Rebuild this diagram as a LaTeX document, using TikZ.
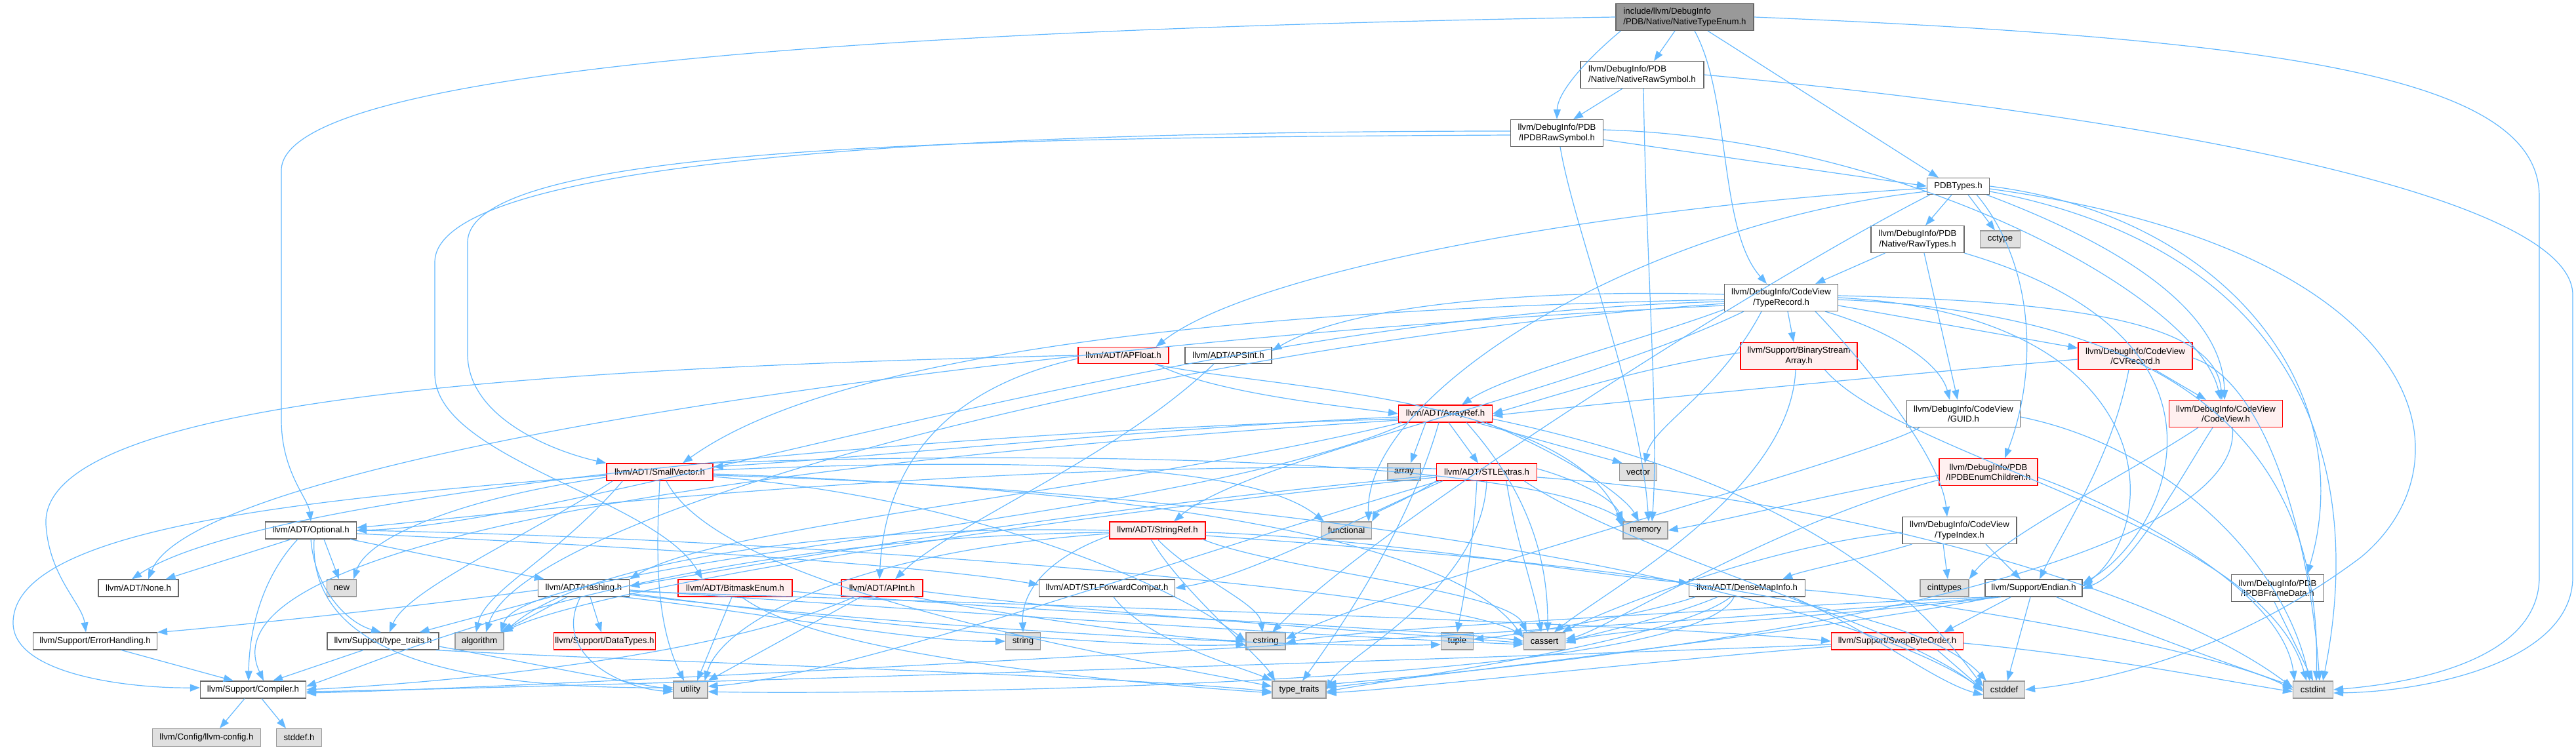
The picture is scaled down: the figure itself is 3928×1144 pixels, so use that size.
\documentclass[tikz,border=0pt]{standalone}
\usepackage{fontspec}
\setmainfont{Liberation Sans}
\usetikzlibrary{arrows.meta,calc}
\definecolor{edgec}{HTML}{63B8FF}
\definecolor{bordg}{HTML}{666666}
\definecolor{sysb}{HTML}{999999}
\definecolor{sysf}{HTML}{E0E0E0}
\definecolor{redf}{HTML}{FFF0F0}
\definecolor{rootf}{HTML}{999999}
\tikzset{
  base/.style={draw, rectangle, inner sep=1pt, font=\fontsize{6.6pt}{7.6pt}\selectfont, align=center, line width=0.6pt},
  plainbox/.style={base, draw=bordg, fill=white},
  redbox/.style={base, draw=red, fill=redf},
  sysbox/.style={base, draw=sysb, fill=sysf},
  rootbox/.style={base, draw=bordg, fill=rootf, align=left},
  e/.style={draw=edgec, line width=0.6pt, -{Triangle[length=7.5pt,width=5.5pt]}},
}
\newcommand{\nd}[7]{\node[#2, minimum width=#5pt, minimum height=#6pt] (#1) at (#3,#4) {#7};}
\begin{document}
\begin{tikzpicture}[x=0.5pt,y=-0.5pt]
\useasboundingbox (0,0) rectangle (3928,1144);
% nodes
\nd{root}{rootbox}{2569}{26}{105}{20.5}{include/llvm/DebugInfo\\/PDB/Native/NativeTypeEnum.h}
\nd{nrs}{plainbox,align=left}{2504}{114}{94}{20.5}{llvm/DebugInfo/PDB\\/Native/NativeRawSymbol.h}
\nd{irs}{plainbox}{2374}{203}{70.5}{20.5}{llvm/DebugInfo/PDB\\/IPDBRawSymbol.h}
\nd{pdbt}{plainbox}{2986}{284}{47.5}{12.5}{PDBTypes.h}
\nd{rawt}{plainbox}{2924}{365}{71}{20.5}{llvm/DebugInfo/PDB\\/Native/RawTypes.h}
\nd{cctype}{sysbox}{3050}{365}{30.5}{13}{cctype}
\nd{tr}{plainbox}{2716}{454}{86.5}{20.5}{llvm/DebugInfo/CodeView\\/TypeRecord.h}
\nd{bsa}{redbox}{2743}{543}{89}{20.5}{llvm/Support/BinaryStream\\Array.h}
\nd{cvr}{redbox}{3256}{543}{87}{20.5}{llvm/DebugInfo/CodeView\\/CVRecord.h}
\nd{guid}{plainbox}{2994}{631}{86.5}{20.5}{llvm/DebugInfo/CodeView\\/GUID.h}
\nd{cv}{redbox}{3394}{631}{86.5}{20.5}{llvm/DebugInfo/CodeView\\/CodeView.h}
\nd{iec}{redbox}{3032}{720}{75}{20.5}{llvm/DebugInfo/PDB\\/IPDBEnumChildren.h}
\nd{apfloat}{redbox}{1713}{542}{69}{12.5}{llvm/ADT/APFloat.h}
\nd{apsint}{plainbox}{1873}{542}{66}{12.5}{llvm/ADT/APSInt.h}
\nd{arrayref}{redbox}{2204}{631}{71.5}{13}{llvm/ADT/ArrayRef.h}
\nd{smallvec}{redbox}{1006}{720}{81}{13}{llvm/ADT/SmallVector.h}
\nd{array}{sysbox}{2141}{720}{25}{13}{array}
\nd{stlextras}{redbox}{2267}{720}{76.5}{13}{llvm/ADT/STLExtras.h}
\nd{vector}{sysbox}{2498}{720}{28.5}{13}{vector}
\nd{optional}{plainbox}{474}{809}{69.5}{13}{llvm/ADT/Optional.h}
\nd{stringref}{redbox}{1765}{809}{73}{13}{llvm/ADT/StringRef.h}
\nd{functional}{sysbox}{2053}{809}{38.5}{13}{functional}
\nd{memory}{sysbox}{2509}{809}{34}{13}{memory}
\nd{typeindex}{plainbox}{2988}{809}{87}{20.5}{llvm/DebugInfo/CodeView\\/TypeIndex.h}
\nd{none}{plainbox}{211}{897}{61}{13}{llvm/ADT/None.h}
\nd{new}{sysbox}{521}{897}{22.5}{13}{new}
\nd{hashing}{plainbox}{890}{897}{69.5}{13}{llvm/ADT/Hashing.h}
\nd{bitmask}{redbox}{1121}{897}{87}{13}{llvm/ADT/BitmaskEnum.h}
\nd{apint}{redbox}{1345}{897}{62}{13}{llvm/ADT/APInt.h}
\nd{stlfwd}{plainbox}{1688}{897}{103.5}{13}{llvm/ADT/STLForwardCompat.h}
\nd{densemap}{plainbox}{2664}{897}{88.5}{13}{llvm/ADT/DenseMapInfo.h}
\nd{cinttypes}{sysbox}{2965}{897}{37}{13}{cinttypes}
\nd{endian}{plainbox}{3101}{897}{74}{13}{llvm/Support/Endian.h}
\nd{frame}{plainbox}{3473}{897}{70.5}{20.5}{llvm/DebugInfo/PDB\\/IPDBFrameData.h}
\nd{errh}{plainbox}{145}{978}{94.5}{13}{llvm/Support/ErrorHandling.h}
\nd{tth}{plainbox}{584}{978}{85}{13}{llvm/Support/type\_traits.h}
\nd{algorithm}{sysbox}{731}{978}{37}{13}{algorithm}
\nd{datatypes}{redbox}{922}{978}{76}{13}{llvm/Support/DataTypes.h}
\nd{string}{sysbox}{1560}{978}{26.5}{13}{string}
\nd{cstring}{sysbox}{1930}{978}{30}{13}{cstring}
\nd{tuple}{sysbox}{2222}{978}{24.5}{13}{tuple}
\nd{cassert}{sysbox}{2355}{978}{31.5}{13}{cassert}
\nd{swap}{redbox}{2893}{978}{100.5}{13}{llvm/Support/SwapByteOrder.h}
\nd{compiler}{plainbox}{386}{1052}{80.5}{13}{llvm/Support/Compiler.h}
\nd{utility}{sysbox}{1053}{1052}{26}{13}{utility}
\nd{typetraits}{sysbox}{1981}{1052}{41}{13}{type\_traits}
\nd{cstddef}{sysbox}{3056}{1052}{31.5}{13}{cstddef}
\nd{cstdint}{sysbox}{3527}{1052}{30.5}{13}{cstdint}
\nd{llvmconfig}{sysbox}{315}{1125}{82.5}{13.5}{llvm/Config/llvm-config.h}
\nd{stddef}{sysbox}{456}{1125}{34.5}{13.5}{stddef.h}
% ---------------- edges
% root
\draw[e] (root.west) .. controls (1300,45) and (429,110) .. (429,260) -- (429,640) .. controls (429,720) and (470,760) .. (optional.north);
\draw[e] ($(root.south west)+(8,0)$) .. controls (2420,90) and (2375,140) .. (irs.north);
\draw[e] ($(root.south)+(-15,0)$) -- ($(nrs.north)+(18,0)$);
\draw[e] ($(root.south)+(15,0)$) .. controls (2640,150) and (2620,350) .. ($(tr.north)+(-22,0)$);
\draw[e] ($(root.south)+(35,0)$) -- ($(pdbt.north west)+(18,0)$);
\draw[e] (root.east) .. controls (3500,60) and (3872,120) .. (3872,300) -- (3872,880) .. controls (3872,1000) and (3700,1040) .. (cstdint.east);
% nrs
\draw[e] ($(nrs.south)+(-30,0)$) -- ($(irs.north)+(25,0)$);
\draw[e] ($(nrs.south)+(2,0)$) .. controls (2510,400) and (2530,650) .. ($(memory.north)+(10,0)$);
\draw[e] (nrs.east) .. controls (3300,180) and (3923,300) .. (3923,450) -- (3923,880) .. controls (3923,1010) and (3700,1055) .. ($(cstdint.east)+(0,5)$);
% irs
\draw[e] ($(irs.east)+(0,10)$) -- (pdbt.west);
\draw[e] ($(irs.east)+(0,-5)$) .. controls (2900,210) and (3350,450) .. ($(cv.north)+(-8,0)$);
\draw[e] ($(irs.west)+(0,3)$) .. controls (1500,210) and (713,220) .. (713,370) -- (713,540) .. controls (713,640) and (850,690) .. (smallvec.north west);
\draw[e] ($(irs.west)+(0,-3)$) .. controls (1400,200) and (663,250) .. (663,400) -- (663,570) .. controls (663,700) and (1000,760) .. ($(bitmask.north)+(-50,0)$);
\draw[e] ($(irs.south)+(5,0)$) .. controls (2400,350) and (2500,600) .. ($(memory.north)+(5,0)$);
% pdbt
\draw[e] ($(pdbt.west)+(0,3)$) .. controls (2400,320) and (1900,420) .. ($(apfloat.north east)+(-20,0)$);
\draw[e] ($(pdbt.south)+(-10,0)$) -- ($(rawt.north)+(12,0)$);
\draw[e] ($(pdbt.south)+(15,0)$) -- ($(cctype.north)+(-8,0)$);
\draw[e] ($(pdbt.south east)+(-5,0)$) .. controls (3250,380) and (3390,480) .. ($(cv.north)+(-2,0)$);
\draw[e] ($(pdbt.south east)+(-20,0)$) .. controls (3100,400) and (3110,560) .. ($(iec.north)+(25,0)$);
\draw[e] (pdbt.east) .. controls (3400,330) and (3600,600) .. ($(frame.north)+(45,0)$);
\draw[e] ($(pdbt.east)+(0,8)$) .. controls (3500,380) and (3610,700) .. ($(cstdint.north)+(15,0)$);
\draw[e] ($(pdbt.east)+(0,4)$) .. controls (3700,380) and (3780,700) .. (3600,850) .. controls (3400,1000) and (3200,1040) .. (cstddef.east);
\draw[e] ($(pdbt.south west)+(5,0)$) .. controls (2700,420) and (2100,800) .. ($(cstring.north)+(10,0)$);
\draw[e] ($(pdbt.west)+(0,8)$) .. controls (2500,340) and (2080,600) .. ($(functional.north east)+(-5,0)$);
% rawt
\draw[e] ($(rawt.south west)+(22,0)$) -- ($(tr.north east)+(-35,0)$);
\draw[e] ($(rawt.south)+(10,0)$) -- ($(guid.north)+(-9,0)$);
\draw[e] (rawt.south east) .. controls (3450,520) and (3300,820) .. ($(endian.east)+(0,-7)$);
% tr
\draw[e] ($(tr.west)+(0,-5)$) .. controls (2300,440) and (2050,470) .. ($(apsint.east)+(0,-7)$);
\draw[e] ($(tr.south west)+(0,-3)$) .. controls (2500,520) and (2300,570) .. ($(arrayref.north)+(25,0)$);
\draw[e] ($(tr.west)+(0,3)$) .. controls (2000,470) and (1300,520) .. ($(smallvec.north)+(35,0)$);
\draw[e] ($(tr.west)+(0,6)$) .. controls (1800,480) and (900,800) .. (optional.east);
\draw[e] ($(tr.south west)+(30,0)$) .. controls (2400,600) and (1900,700) .. ($(stringref.north)+(25,0)$);
\draw[e] ($(tr.south)+(-30,0)$) .. controls (2620,600) and (2520,650) .. ($(vector.north)+(10,0)$);
\draw[e] ($(tr.south)+(10,0)$) -- ($(bsa.north)+(-8,0)$);
\draw[e] ($(tr.south east)+(-20,0)$) .. controls (2900,510) and (2960,560) .. ($(guid.north)+(-21,0)$);
\draw[e] ($(tr.south east)+(-35,0)$) .. controls (2850,560) and (2960,700) .. ($(typeindex.north)+(-19,0)$);
\draw[e] ($(tr.east)+(0,12)$) -- ($(cvr.west)+(0,-12)$);
\draw[e] ($(tr.east)+(0,-3)$) .. controls (3200,460) and (3380,500) .. ($(cv.north)+(-6,0)$);
\draw[e] (tr.east) .. controls (3300,480) and (3300,800) .. ($(endian.east)+(0,-3)$);
\draw[e] ($(tr.east)+(0,3)$) .. controls (3350,480) and (3540,700) .. ($(cstdint.north)+(5,0)$);
\draw[e] ($(tr.west)+(0,9)$) .. controls (1800,520) and (800,780) .. ($(algorithm.north)+(10,0)$);
\draw[e] ($(tr.west)+(0,12)$) .. controls (1500,520) and (300,700) .. ($(none.north)+(15,0)$);
% bsa
\draw[e] ($(bsa.west)+(0,-5)$) .. controls (2500,560) and (2350,610) .. (arrayref.east);
\draw[e] ($(bsa.south)+(-5,0)$) .. controls (2730,750) and (2450,900) .. ($(cassert.north)+(15,0)$);
\draw[e] ($(bsa.south east)+(-50,0)$) .. controls (2900,700) and (3450,800) .. ($(cstdint.north)+(-10,0)$);
% cvr
\draw[e] ($(cvr.west)+(0,5)$) .. controls (2800,580) and (2400,620) .. ($(arrayref.east)+(0,3)$);
\draw[e] ($(cvr.south)+(30,0)$) -- ($(cv.north)+(-30,0)$);
\draw[e] ($(cvr.south)+(-10,0)$) .. controls (3220,700) and (3150,800) .. ($(endian.north)+(9,0)$);
\draw[e] ($(cvr.east)+(0,3)$) .. controls (3450,580) and (3520,800) .. ($(cstdint.north)+(10,0)$);
% guid
\draw[e] ($(guid.south west)+(20,0)$) .. controls (2850,700) and (2100,900) .. ($(cstring.east)+(0,-3)$);
\draw[e] ($(guid.east)+(0,5)$) .. controls (3300,680) and (3480,850) .. ($(cstdint.north)+(-5,0)$);
% cv
\draw[e] ($(cv.south west)+(45,0)$) .. controls (3250,720) and (3050,820) .. (cinttypes.north east);
\draw[e] ($(cv.south)+(-20,0)$) .. controls (3330,720) and (3250,870) .. ($(endian.east)+(0,1)$);
\draw[e] ($(cv.south)+(10,0)$) .. controls (3420,800) and (3000,960) .. ($(typetraits.east)+(0,-8)$);
% iec
\draw[e] ($(iec.west)+(0,5)$) .. controls (2800,750) and (2650,790) .. (memory.east);
\draw[e] ($(iec.west)+(0,12)$) .. controls (2700,800) and (2450,960) .. ($(cassert.east)+(0,-3)$);
\draw[e] ($(iec.east)+(0,8)$) .. controls (3250,780) and (3480,900) .. ($(cstdint.north west)+(3,0)$);
% apfloat
\draw[e] ($(apfloat.south east)+(-20,0)$) .. controls (1850,600) and (2050,620) .. (arrayref.west);
\draw[e] ($(apfloat.west)+(0,5)$) .. controls (1450,590) and (1350,700) .. ($(apint.north)+(-4,0)$);
\draw[e] (apfloat.west) .. controls (900,560) and (60,600) .. (70,800) .. controls (75,880) and (125,920) .. ($(errh.north)+(-14,0)$);
\draw[e] ($(apfloat.south east)+(-22,0)$) .. controls (1900,590) and (2400,600) .. ($(memory.west)+(0,-5)$);
% apsint
\draw[e] ($(apsint.south)+(-22,0)$) .. controls (1700,700) and (1450,800) .. ($(apint.north)+(20,0)$);
% arrayref
\draw[e] ($(arrayref.south)+(-30,0)$) -- ($(array.north)+(10,0)$);
\draw[e] ($(arrayref.south)+(5,0)$) -- ($(stlextras.north)+(-13,0)$);
\draw[e] ($(arrayref.south east)+(-25,0)$) -- ($(vector.north west)+(5,0)$);
\draw[e] ($(arrayref.west)+(0,5)$) .. controls (1800,650) and (1300,700) .. ($(smallvec.east)+(0,-8)$);
\draw[e] ($(arrayref.south west)+(5,0)$) .. controls (1700,750) and (1100,800) .. (hashing.north east);
\draw[e] ($(arrayref.west)+(0,8)$) .. controls (1400,660) and (400,750) .. ($(none.north)+(-10,0)$);
\draw[e] ($(arrayref.west)+(0,10)$) .. controls (1200,700) and (300,820) .. ($(compiler.north)+(16,0)$);
\draw[e] ($(arrayref.south west)+(15,0)$) .. controls (1800,800) and (800,850) .. ($(algorithm.north east)+(-5,0)$);
\draw[e] ($(arrayref.south east)+(-40,0)$) .. controls (2330,750) and (2360,850) .. ($(cassert.north)+(5,0)$);
\draw[e] ($(arrayref.east)+(0,8)$) .. controls (2800,750) and (2950,950) .. ($(cstddef.west)+(0,-5)$);
\draw[e] ($(arrayref.south east)+(-10,0)$) .. controls (2400,700) and (2480,760) .. ($(memory.north)+(-10,0)$);
\draw[e] ($(arrayref.south)+(-10,0)$) .. controls (2150,800) and (2050,950) .. ($(typetraits.north)+(5,0)$);
% smallvec
\draw[e] ($(smallvec.west)+(0,5)$) .. controls (500,760) and (20,800) .. (20,950) .. controls (20,1030) and (200,1050) .. ($(compiler.west)+(0,-3)$);
\draw[e] ($(smallvec.south west)+(10,0)$) .. controls (800,820) and (620,900) .. ($(tth.north)+(10,0)$);
\draw[e] ($(smallvec.south west)+(25,0)$) .. controls (850,850) and (740,900) .. ($(algorithm.north)+(-5,0)$);
\draw[e] ($(smallvec.east)+(0,3)$) .. controls (1600,740) and (2200,800) .. ($(cassert.west)+(0,-5)$);
\draw[e] ($(smallvec.east)+(0,5)$) .. controls (2000,750) and (2800,900) .. (cstddef.west);
\draw[e] ($(smallvec.east)+(0,7)$) .. controls (1500,760) and (1800,900) .. (cstring.west);
\draw[e] ($(smallvec.east)+(0,-3)$) .. controls (1500,700) and (1900,700) .. ($(functional.north west)+(5,0)$);
\draw[e] ($(smallvec.north east)+(-5,0)$) .. controls (1500,690) and (2300,690) .. ($(memory.north west)+(5,0)$);
\draw[e] ($(smallvec.west)+(0,8)$) .. controls (700,760) and (560,820) .. ($(new.north east)+(-5,0)$);
\draw[e] ($(smallvec.south)+(10,0)$) .. controls (1100,900) and (1700,1000) .. ($(typetraits.west)+(0,-5)$);
\draw[e] (smallvec.south) .. controls (1000,850) and (1000,950) .. ($(utility.north)+(-10,0)$);
% stlextras
\draw[e] ($(stlextras.west)+(0,-5)$) .. controls (1500,700) and (800,780) .. ($(optional.east)+(0,-4)$);
\draw[e] ($(stlextras.south west)+(10,0)$) .. controls (2050,800) and (1900,880) .. (stlfwd.east);
\draw[e] ($(stlextras.west)+(0,5)$) .. controls (1600,780) and (1100,870) .. ($(hashing.east)+(0,-3)$);
\draw[e] ($(stlextras.west)+(0,8)$) .. controls (1500,800) and (900,900) .. ($(algorithm.north east)+(-2,0)$);
\draw[e] ($(stlextras.south)+(30,0)$) .. controls (2310,820) and (2340,900) .. ($(cassert.north)+(-5,0)$);
\draw[e] ($(stlextras.south east)+(-20,0)$) .. controls (2500,850) and (2900,950) .. ($(cstddef.west)+(0,3)$);
\draw[e] ($(stlextras.east)+(0,8)$) .. controls (2800,760) and (3300,900) .. ($(cstdint.west)+(0,-3)$);
\draw[e] (stlextras.south west) .. controls (2150,760) and (2100,780) .. (functional.north east);
\draw[e] ($(stlextras.east)+(0,-5)$) .. controls (2400,730) and (2460,760) .. (memory.north west);
\draw[e] ($(stlextras.south)+(-15,0)$) .. controls (2245,850) and (2230,920) .. (tuple.north);
\draw[e] (stlextras.south) .. controls (2260,900) and (2050,1000) .. (typetraits.east);
\draw[e] ($(stlextras.south west)+(5,0)$) .. controls (1800,850) and (1300,1030) .. ($(utility.east)+(0,-5)$);
% optional
\draw[e] ($(optional.south west)+(40,0)$) -- ($(none.north east)+(-20,0)$);
\draw[e] ($(optional.south)+(20,0)$) -- ($(new.north)+(-4,0)$);
\draw[e] ($(optional.south east)+(-10,0)$) -- ($(hashing.north west)+(10,0)$);
\draw[e] ($(optional.south)+(-20,0)$) .. controls (400,880) and (380,960) .. ($(compiler.north)+(-7,0)$);
\draw[e] (optional.south) .. controls (480,900) and (530,950) .. ($(tth.north)+(-3,0)$);
\draw[e] ($(optional.east)+(0,5)$) .. controls (900,830) and (1400,860) .. ($(stlfwd.west)+(0,-5)$);
\draw[e] (optional.east) .. controls (1200,820) and (2200,900) .. ($(cassert.west)+(0,-8)$);
\draw[e] ($(optional.south)+(5,0)$) .. controls (470,1000) and (700,1050) .. ($(utility.west)+(0,-3)$);
% hashing
\draw[e] ($(hashing.west)+(0,3)$) .. controls (600,930) and (300,960) .. (errh.north east);
\draw[e] ($(hashing.south west)+(20,0)$) -- ($(tth.north east)+(-30,0)$);
\draw[e] ($(hashing.south)+(-25,0)$) -- ($(algorithm.north east)+(-5,0)$);
\draw[e] ($(hashing.south)+(10,0)$) -- ($(datatypes.north)+(-5,0)$);
\draw[e] ($(hashing.east)+(0,5)$) .. controls (1500,920) and (2500,950) .. (swap.west);
\draw[e] ($(hashing.east)+(0,3)$) .. controls (1400,930) and (2000,970) .. ($(cassert.west)+(0,5)$);
\draw[e] ($(hashing.east)+(0,8)$) .. controls (1300,950) and (1700,990) .. ($(cstring.west)+(0,5)$);
\draw[e] ($(hashing.south east)+(-10,0)$) .. controls (1200,940) and (1400,980) .. (string.west);
\draw[e] ($(hashing.east)+(0,10)$) .. controls (1400,960) and (2000,990) .. ($(tuple.west)+(0,5)$);
\draw[e] ($(hashing.south)+(-5,0)$) .. controls (840,1000) and (950,1050) .. ($(utility.west)+(0,3)$);
% misc
\draw[e] ($(errh.south)+(40,0)$) -- ($(compiler.north)+(-30,0)$);
\draw[e] ($(tth.south)+(-30,0)$) -- ($(compiler.north)+(30,0)$);
\draw[e] ($(tth.south east)+(-5,0)$) .. controls (1000,1010) and (1700,1030) .. ($(typetraits.west)+(0,3)$);
\draw[e] ($(tth.east)+(0,8)$) .. controls (800,1010) and (950,1040) .. (utility.west);
\draw[e] ($(compiler.south)+(-13,0)$) -- ($(llvmconfig.north)+(20,0)$);
\draw[e] ($(compiler.south)+(13,0)$) -- ($(stddef.north)+(-20,0)$);
% stringref
\draw[e] ($(stringref.east)+(0,3)$) .. controls (2100,820) and (2450,880) .. ($(densemap.west)+(0,-8)$);
\draw[e] ($(stringref.west)+(0,3)$) .. controls (1000,820) and (600,1000) .. ($(compiler.east)+(0,-5)$);
\draw[e] (stringref.west) .. controls (1300,800) and (900,850) .. (algorithm.north east);
\draw[e] ($(stringref.south east)+(-5,0)$) .. controls (1950,870) and (2300,900) .. ($(cassert.north west)+(5,0)$);
\draw[e] ($(stringref.east)+(0,8)$) .. controls (2300,850) and (2900,900) .. ($(cstddef.north west)+(5,0)$);
\draw[e] (stringref.south) .. controls (1820,880) and (1920,920) .. ($(cstring.north)+(-5,0)$);
\draw[e] ($(stringref.west)+(0,8)$) .. controls (1600,850) and (1557,900) .. (string.north);
\draw[e] ($(stringref.south)+(-10,0)$) .. controls (1800,900) and (1920,1000) .. ($(typetraits.north west)+(5,0)$);
\draw[e] ($(stringref.west)+(0,5)$) .. controls (1300,840) and (1100,950) .. ($(utility.north east)+(-5,0)$);
% bitmask
\draw[e] ($(bitmask.south)+(-5,0)$) -- ($(utility.north)+(10,0)$);
\draw[e] ($(bitmask.south)+(10,0)$) .. controls (1250,1000) and (1700,1040) .. ($(typetraits.west)+(0,5)$);
\draw[e] ($(bitmask.east)+(0,5)$) .. controls (1500,930) and (2200,960) .. (cassert.west);
% apint
\draw[e] ($(apint.south west)+(20,0)$) .. controls (1100,1000) and (700,1040) .. (compiler.east);
\draw[e] ($(apint.south west)+(30,0)$) -- (utility.north east);
\draw[e] ($(apint.east)+(0,5)$) .. controls (1700,940) and (2200,970) .. ($(cassert.west)+(0,3)$);
\draw[e] ($(apint.south east)+(-15,0)$) .. controls (1600,950) and (1850,980) .. ($(cstring.west)+(0,-3)$);
% stlfwd
\draw[e] ($(stlfwd.south)+(10,0)$) .. controls (1750,980) and (1900,1020) .. (typetraits.north west);
% densemap
\draw[e] ($(densemap.south west)+(10,0)$) .. controls (2500,940) and (2300,970) .. ($(tuple.east)+(0,-3)$);
\draw[e] ($(densemap.south)+(-45,0)$) .. controls (2550,940) and (2420,970) .. (cassert.east);
\draw[e] ($(densemap.south)+(-25,0)$) .. controls (2550,980) and (2100,1040) .. ($(typetraits.east)+(0,3)$);
\draw[e] ($(densemap.south)+(-20,0)$) .. controls (2580,1050) and (1300,1060) .. ($(utility.east)+(0,3)$);
\draw[e] ($(densemap.south east)+(-20,0)$) .. controls (2850,960) and (2950,1040) .. ($(cstddef.west)+(0,8)$);
\draw[e] ($(densemap.east)+(0,3)$) .. controls (3000,920) and (3400,1000) .. (cstdint.west);
% typeindex
\draw[e] ($(typeindex.south west)+(15,0)$) .. controls (2850,850) and (2750,870) .. ($(densemap.north east)+(-35,0)$);
\draw[e] ($(typeindex.south)+(-25,0)$) -- ($(cinttypes.north)+(5,0)$);
\draw[e] ($(typeindex.south)+(40,0)$) -- ($(endian.north)+(-20,0)$);
\draw[e] ($(typeindex.west)+(0,3)$) .. controls (2700,830) and (2450,930) .. ($(cassert.north east)+(-5,0)$);
% endian
\draw[e] ($(endian.south west)+(40,0)$) -- ($(swap.north east)+(-30,0)$);
\draw[e] ($(endian.south west)+(20,0)$) .. controls (2500,960) and (800,1050) .. ($(compiler.east)+(0,5)$);
\draw[e] ($(endian.south west)+(25,0)$) .. controls (2800,940) and (2450,960) .. ($(cassert.east)+(0,3)$);
\draw[e] ($(endian.south)+(-5,0)$) -- ($(cstddef.north)+(5,0)$);
\draw[e] ($(endian.south east)+(-40,0)$) .. controls (3300,980) and (3450,1030) .. ($(cstdint.west)+(0,-5)$);
\draw[e] ($(endian.south west)+(10,0)$) .. controls (2800,920) and (2050,960) .. ($(cstring.east)+(0,3)$);
\draw[e] ($(endian.south west)+(15,0)$) .. controls (2800,960) and (2100,1040) .. ($(typetraits.east)+(0,-3)$);
% swap
\draw[e] ($(swap.west)+(0,5)$) .. controls (2400,1000) and (800,1050) .. ($(compiler.east)+(0,3)$);
\draw[e] ($(swap.south east)+(-40,0)$) -- (cstddef.west);
\draw[e] ($(swap.east)+(0,3)$) .. controls (3200,1000) and (3400,1040) .. ($(cstdint.west)+(0,3)$);
\draw[e] ($(swap.west)+(0,8)$) .. controls (2500,1010) and (2150,1050) .. ($(typetraits.east)+(0,5)$);
% frame
\draw[e] ($(frame.south)+(-5,0)$) -- (cstdint.north);
\end{tikzpicture}
\end{document}
